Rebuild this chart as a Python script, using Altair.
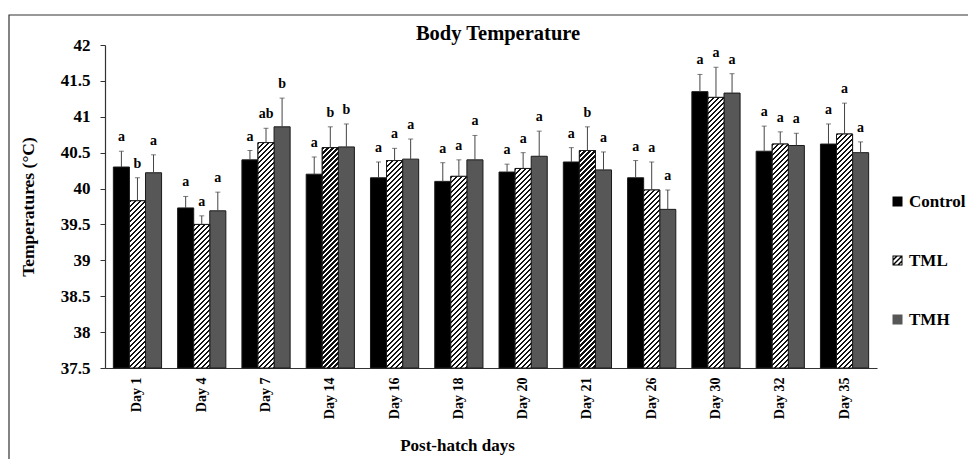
import altair as alt
import pandas as pd

# ---- data -------------------------------------------------------------
chart_title = "Body Temperature"
days = ["Day 1", "Day 4", "Day 7", "Day 14", "Day 16", "Day 18",
        "Day 20", "Day 21", "Day 26", "Day 30", "Day 32", "Day 35"]
groups = ["Control", "TML", "TMH"]

control_mean = [40.30, 39.73, 40.40, 40.20, 40.15, 40.10, 40.23, 40.37, 40.15, 41.35, 40.52, 40.62]
control_sd = [0.22, 0.16, 0.13, 0.24, 0.22, 0.26, 0.11, 0.20, 0.24, 0.24, 0.35, 0.28]
tml_mean = [39.83, 39.50, 40.64, 40.57, 40.39, 40.17, 40.28, 40.53, 39.98, 41.27, 40.62, 40.76]
tml_sd = [0.32, 0.12, 0.20, 0.29, 0.17, 0.23, 0.22, 0.33, 0.39, 0.42, 0.17, 0.43]
tmh_mean = [40.22, 39.69, 40.86, 40.58, 40.41, 40.40, 40.45, 40.26, 39.71, 41.33, 40.60, 40.50]
tmh_sd = [0.25, 0.26, 0.40, 0.32, 0.28, 0.34, 0.35, 0.25, 0.27, 0.27, 0.17, 0.15]

control_letters = ["a", "a", "a", "a", "a", "a", "a", "a", "a", "a", "a", "a"]
tml_letters = ["b", "a", "ab", "b", "a", "a", "a", "b", "a", "a", "a", "a"]
tmh_letters = ["a", "a", "b", "b", "a", "a", "a", "a", "a", "a", "a", "a"]

y_ticks = [37.5, 38, 38.5, 39, 39.5, 40, 40.5, 41, 41.5, 42]

series = {
    "Control": (control_mean, control_sd, control_letters),
    "TML": (tml_mean, tml_sd, tml_letters),
    "TMH": (tmh_mean, tmh_sd, tmh_letters),
}
rows = []
for g in groups:
    means, sds, letters = series[g]
    for d, m, s, l in zip(days, means, sds, letters):
        rows.append({"day": d, "group": g, "mean": m, "top": round(m + s, 3), "letter": l})
df = pd.DataFrame(rows)

# ---- layout -----------------------------------------------------------
PLOT_W, PLOT_H = 772, 323
Y_MIN, Y_MAX = 37.5, 42.0
PAD_INNER, PAD_OUTER = 0.25, 0.13
SERIF = "Liberation Serif"

step = PLOT_W / (len(days) - PAD_INNER + 2 * PAD_OUTER)
bar_w = step * (1 - PAD_INNER) / len(groups)


def hatch(h, w=bar_w, period=5.0, dark=0.45):
    """Diagonal '/' stripes as a hard-stop linear gradient for a w x h bar."""
    total = w + h
    k = (w + h) / (w * w + h * h)
    stops = []
    s = 0.0
    while s < total:
        a = s / total
        b = min((s + dark * period) / total, 1.0)
        c = min((s + period) / total, 1.0)
        stops += [{"offset": a, "color": "#111111"},
                  {"offset": b, "color": "#111111"},
                  {"offset": b, "color": "#ffffff"},
                  {"offset": c, "color": "#ffffff"}]
        s += period
    return {"gradient": "linear", "x1": 0, "y1": 0,
            "x2": w * k, "y2": h * k, "stops": stops}


# legend swatch for TML: filled outline ring plus three "/" stripes
HATCH_SYMBOL = (
    "M-1,-1L1,-1L1,1L-1,1Z "
    "M-0.8,-0.8L-0.8,0.8L0.8,0.8L0.8,-0.8Z "
    "M-1,-0.2L-0.2,-1L0.2,-1L-1,0.2Z "
    "M-1,0.8L0.8,-1L1,-1L1,-0.8L-0.8,1L-1,1Z "
    "M-0.2,1L1,-0.2L1,0.2L0.2,1Z"
)

x_enc = alt.X(
    "day:N", sort=days,
    scale=alt.Scale(paddingInner=PAD_INNER, paddingOuter=PAD_OUTER),
    axis=alt.Axis(
        title="Post-hatch days", titleFont=SERIF, titleFontSize=17,
        titleFontWeight="bold", titleColor="#000", titleX=352, titleY=77,
        titleBaseline="middle",
        labelAngle=-90, labelFont=SERIF, labelFontSize=14, labelFontWeight="bold",
        labelColor="#000", labelPadding=9, ticks=False,
        domainColor="#333", domainWidth=1.2,
    ),
)
xo_enc = alt.XOffset("group:N", sort=groups,
                     scale=alt.Scale(domain=groups, paddingInner=0, paddingOuter=0))
y_scale = alt.Scale(domain=[Y_MIN, Y_MAX], nice=False, zero=False)
y_axis = alt.Axis(
    values=y_ticks, grid=False, labelOverlap=False,
    labelExpr="datum.value % 1 == 0 ? format(datum.value, 'd') : format(datum.value, '.1f')",
    title="Temperatures (°C)", titleFont=SERIF, titleFontSize=17.5,
    titleFontWeight="bold", titleColor="#000", titleX=-77, titleY=PLOT_H / 2,
    titleAngle=270, titleBaseline="middle", titleAlign="center",
    labelFont=SERIF, labelFontSize=17, labelFontWeight="bold", labelColor="#000",
    labelPadding=10, tickSize=5, tickColor="#333", domainColor="#333", domainWidth=1.2,
)
y_enc = alt.Y("mean:Q", scale=y_scale, axis=y_axis)
y_top = alt.Y("top:Q", scale=y_scale, axis=y_axis)

fill_scale = alt.Scale(domain=groups, range=["#000000", "#000000", "#575757"])
legend_def = alt.Legend(
    title=None, orient="none", legendX=784, legendY=148, direction="vertical",
    labelFont=SERIF, labelFontSize=17, labelFontWeight="bold", labelColor="#000",
    symbolSize=100, symbolStrokeColor="#000", symbolStrokeWidth=0.8,
    symbolOpacity=1, rowPadding=41, labelOffset=3,
)

base = alt.Chart(df)

bars = base.mark_bar(stroke="#1a1a1a", strokeWidth=1).encode(
    x=x_enc, xOffset=xo_enc, y=y_enc, y2=alt.datum(Y_MIN),
    fill=alt.Fill("group:N", scale=fill_scale, legend=legend_def),
)

# striped overlay for the TML bars, one gradient per bar height
px_per_unit = PLOT_H / (Y_MAX - Y_MIN)
hatched = []
for d, m in zip(days, tml_mean):
    h = (m - Y_MIN) * px_per_unit
    hatched.append(
        base.transform_filter((alt.datum.group == "TML") & (alt.datum.day == d))
        .mark_bar(fill=hatch(h), stroke="#1a1a1a", strokeWidth=1)
        .encode(x=x_enc, xOffset=xo_enc, y=y_enc, y2=alt.datum(Y_MIN))
    )

err = base.mark_rule(color="#444", strokeWidth=1).encode(
    x=x_enc, xOffset=xo_enc, y=y_enc, y2="top:Q"
)
caps = base.mark_tick(color="#444", thickness=1, size=5).encode(
    x=x_enc, xOffset=xo_enc, y=y_top
)
letters = base.mark_text(
    font=SERIF, fontSize=14, fontWeight="bold", color="#000",
    baseline="bottom", dy=-7
).encode(x=x_enc, xOffset=xo_enc, y=y_top, text="letter:N")

# invisible points carrying the legend swatch shapes
legend_pts = base.mark_point(filled=True, opacity=0).encode(
    x=x_enc, xOffset=xo_enc, y=y_enc,
    fill=alt.Fill("group:N", scale=fill_scale, legend=legend_def),
    shape=alt.Shape("group:N", scale=alt.Scale(domain=groups,
                    range=["square", HATCH_SYMBOL, "square"]), legend=legend_def),
)

# outer border of the figure and its heading
frame = alt.Chart(pd.DataFrame({"k": [0]})).mark_rect(
    fillOpacity=0, stroke="#333", strokeWidth=1.2
).encode(x=alt.value(-96), x2=alt.value(880), y=alt.value(-30), y2=alt.value(430))

heading = alt.Chart(pd.DataFrame({"t": [chart_title]})).mark_text(
    font=SERIF, fontSize=20.5, fontWeight="bold", color="#000",
    align="center", baseline="alphabetic"
).encode(x=alt.value(393), y=alt.value(-5), text="t:N")

chart = alt.layer(frame, heading, bars, *hatched, err, caps, letters, legend_pts).properties(
    width=PLOT_W, height=PLOT_H, background="white",
    autosize=alt.AutoSizeParams(type="none"),
    padding={"left": 105, "top": 45, "right": 91, "bottom": 91},
).configure_view(stroke="transparent", strokeWidth=0).configure_axisY(
    labelOverlap=False
).configure_legend(labelFont=SERIF, labelFontWeight="bold")

chart.save("out.html", embed_options={"renderer": "svg", "actions": False})
